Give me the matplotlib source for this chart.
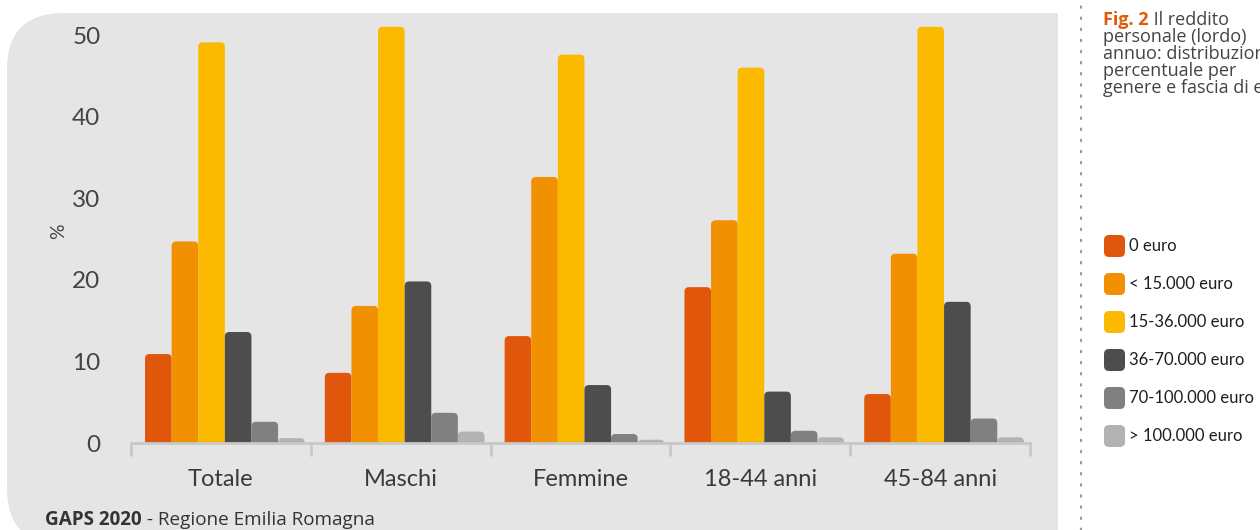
import matplotlib.pyplot as plt
from matplotlib.patches import FancyBboxPatch, Rectangle
import numpy as np

# income distribution (% of people) by gender and age band
categories = ["Totale", "Maschi", "Femmine", "18-44 anni", "45-84 anni"]
income_bands = ["0 euro", "< 15.000 euro", "15-36.000 euro",
                "36-70.000 euro", "70-100.000 euro", "> 100.000 euro"]
zero_euro = [10.9, 8.6, 13.1, 19.1, 6.0]
below_15k = [24.7, 16.8, 32.6, 27.3, 23.2]
from_15_to_36k = [49.1, 51.0, 47.6, 46.0, 51.0]
from_36_to_70k = [13.6, 19.8, 7.1, 6.3, 17.3]
from_70_to_100k = [2.6, 3.7, 1.1, 1.5, 3.0]
above_100k = [0.6, 1.4, 0.4, 0.7, 0.7]
yticks = [0, 10, 20, 30, 40, 50]

series = [zero_euro, below_15k, from_15_to_36k,
          from_36_to_70k, from_70_to_100k, above_100k]
colors = ["#e0570b", "#f19000", "#fbb900", "#4d4d4d", "#808080", "#b3b3b3"]

W, H = 1260, 530
fig = plt.figure(figsize=(W / 100, H / 100), dpi=100)
fig.patch.set_facecolor("white")

# grey card behind the chart, rounded on the left side
card = FancyBboxPatch((7 / W, -15 / H), 1200 / W, (H - 13 + 15) / H,
                      boxstyle="round,pad=0,rounding_size=0.045",
                      mutation_aspect=W / H,
                      transform=fig.transFigure, facecolor="#e5e5e5",
                      edgecolor="none", zorder=-3)
fig.patches.append(card)
fig.patches.append(Rectangle((1058 / W, 0), 1 - 1058 / W, 1,
                             transform=fig.transFigure, facecolor="white",
                             edgecolor="none", zorder=-2))

# dotted separator
fig.add_artist(plt.Line2D([1081 / W, 1081 / W], [0, 1], transform=fig.transFigure,
                          color="#9a9a9a", lw=1.6, ls=(0, (0.6, 4.4)),
                          dash_capstyle="round", zorder=-1))

ax_left, ax_right = 131 / W, 1030 / W
ax_bottom = (H - 443) / H
ymax = 52
ax_h = ymax * 8.16 / H
ax = fig.add_axes([ax_left, ax_bottom, ax_right - ax_left, ax_h])
ax.set_facecolor("none")
ax.set_xlim(-0.5, len(categories) - 0.5)
ax.set_ylim(0, ymax)

x = np.arange(len(categories))
bw = 0.148
shift = 0.022
n = len(series)

# scale between data units and pixels for the rounded caps
px_x = (ax_right - ax_left) * W / len(categories)
px_y = 8.16
aspect = px_x / px_y
r = 4.5 / px_x

for i, (vals, col) in enumerate(zip(series, colors)):
    bars = ax.bar(x + shift + (i - (n - 1) / 2) * bw, vals, bw,
                  color=col, linewidth=0)
    for b in bars:
        b.set_visible(False)
        x0, w, h = b.get_x(), b.get_width(), b.get_height()
        p = FancyBboxPatch((x0, -r * aspect), w, h + r * aspect,
                           boxstyle=f"round,pad=0,rounding_size={r}",
                           mutation_aspect=aspect,
                           facecolor=col, edgecolor="none", zorder=2)
        ax.add_patch(p)

for s in ["top", "right", "left"]:
    ax.spines[s].set_visible(False)
ax.spines["bottom"].set_color("#c8c8c8")
ax.spines["bottom"].set_linewidth(2)
ax.spines["bottom"].set_zorder(3)

ax.set_xticks(x)
ax.set_xticklabels(categories, fontsize=17, color="#3a3a3a", family="Lato")
ax.set_xticks(np.arange(len(categories) + 1) - 0.5, minor=True)
ax.tick_params(axis="x", which="major", length=0, pad=19)
ax.tick_params(axis="x", which="minor", length=9, width=2, color="#c8c8c8",
               direction="out")

ax.set_yticks(yticks)
ax.set_yticklabels([str(t) for t in yticks], fontsize=17.5, color="#444444",
                   family="Lato")
ax.tick_params(axis="y", length=0, pad=22)
ax.set_ylabel("%", fontsize=14, color="#444444", family="Lato", labelpad=4)

# source line
y_src = (H - 525) / H
src = fig.text(45 / W, y_src, "GAPS 2020", fontsize=13.6,
               fontweight="bold", color="#333333", family="Open Sans",
               va="baseline")
fig.canvas.draw()
bb = src.get_window_extent()
fig.text(bb.x1 / W, y_src, " - Regione Emilia Romagna", fontsize=13.6,
         color="#333333", family="Open Sans", va="baseline")

# caption on the right
fig_lbl = fig.text(1103 / W, (H - 25) / H, "Fig. 2", fontsize=13,
                   fontweight="bold", color="#e05a0a", family="Open Sans",
                   va="baseline")
fig.canvas.draw()
bb = fig_lbl.get_window_extent()
fig.text(bb.x1 / W, (H - 25) / H, " Il reddito", fontsize=13,
         color="#444444", family="Open Sans", va="baseline")
caption_lines = ["personale (lordo)", "annuo: distribuzione",
                 "percentuale per", "genere e fascia di età"]
for k, line in enumerate(caption_lines):
    fig.text(1103 / W, (H - 25 - 17 * (k + 1)) / H, line, fontsize=13,
             color="#444444", family="Open Sans", va="baseline")

# legend with rounded swatches
for k, (lab, col) in enumerate(zip(income_bands, colors)):
    yc = 246 + 38 * k
    sw = FancyBboxPatch((1104 / W, (H - yc - 11) / H), 21 / W, 22 / H,
                        boxstyle="round,pad=0,rounding_size=0.004",
                        mutation_aspect=W / H, transform=fig.transFigure,
                        facecolor=col, edgecolor="none")
    fig.patches.append(sw)
    fig.text(1129 / W, (H - yc) / H, lab, fontsize=12, color="#1e1e1e",
             family="Lato", va="center")

fig.savefig("out.png", dpi=100)
